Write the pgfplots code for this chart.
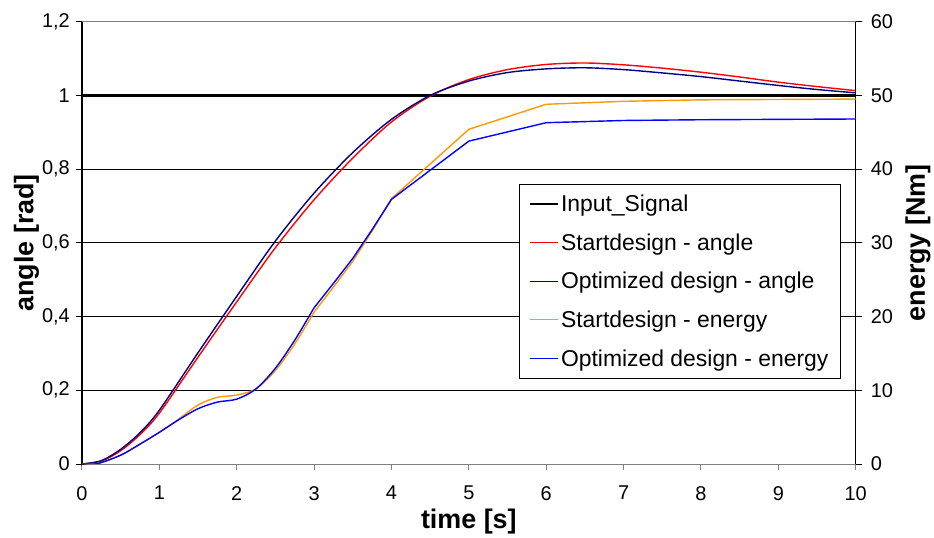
\documentclass[border=0pt]{standalone}
\usepackage{fontspec}
\setmainfont{Liberation Sans}
\usepackage{pgfplots}
\pgfplotsset{compat=1.18}
\usetikzlibrary{calc}

\definecolor{xlnavy}{RGB}{0,0,128}
\definecolor{xlorange}{RGB}{255,153,0}
\definecolor{xlgray}{RGB}{128,128,128}

\pgfplotsset{
  base/.style={
    scale only axis, width=773.7bp, height=442.3bp,
    xmin=0, xmax=10,
    tick align=outside, major tick length=6bp,
    /pgf/number format/assume math mode=true,
    /pgf/number format/use comma,
    tick label style={font=\fontsize{20}{24}\selectfont, inner sep=0bp},
    label style={font=\fontsize{27}{32}\selectfont\bfseries},
  },
}

\begin{document}
\begin{tikzpicture}
\begin{axis}[base, name=ax,
    ymin=0, ymax=1.2,
    xtick={0,1,...,10}, ytick={0,0.2,...,1.2},
    axis x line*=bottom, axis y line*=left,
    x axis line style={xlgray, line width=1bp, -},
    y axis line style={black, line width=2bp, -},
    xtick style={xlgray, line width=1bp},
    ytick style={black, line width=1bp},
    ymajorgrids, major grid style={black, line width=0.8bp},
    xticklabel style={yshift=-16bp},
    yticklabel style={xshift=-6bp},
    xlabel={time [s]}, ylabel={angle [rad]},
    xlabel style={at={(axis description cs:0.5,-0.131)}, anchor=center},
    ylabel style={at={(axis description cs:-0.0717,0.5)}, anchor=center},
]
\draw[xlgray, line width=1bp] (rel axis cs:0,1) -- (rel axis cs:1,1);
% Input_Signal
\addplot[black, line width=2.5bp] coordinates {
(0,1) (1,1) (2,1) (3,1) (4,1) (5,1) (6,1) (7,1) (8,1) (9,1) (10,1)};
% Startdesign - angle
\addplot[red, line width=1.4bp, smooth] coordinates {
(0,0) (0.25,0.008) (0.5,0.036) (0.75,0.08) (1.0,0.138) (1.5,0.29)
(2.0,0.44) (2.5,0.587) (3.0,0.717) (3.5,0.83) (4.0,0.928) (4.5,0.998)
(5.0,1.043) (5.5,1.07) (6.0,1.084) (6.5,1.088) (7.0,1.083) (7.5,1.074)
(8.0,1.063) (8.5,1.05) (9.0,1.036) (9.5,1.024) (10.0,1.013)};
% Optimized design - angle
\addplot[xlnavy, line width=1.4bp, smooth] coordinates {
(0,0) (0.25,0.009) (0.5,0.04) (0.75,0.085) (1.0,0.146) (1.5,0.302)
(2.0,0.455) (2.5,0.605) (3.0,0.735) (3.5,0.845) (4.0,0.935) (4.5,1.0)
(5.0,1.039) (5.5,1.062) (6.0,1.072) (6.5,1.075) (7.0,1.07) (7.5,1.061)
(8.0,1.051) (8.5,1.039) (9.0,1.027) (9.5,1.016) (10.0,1.007)};
\end{axis}

\begin{axis}[base,
    ymin=0, ymax=60, ytick={0,10,...,60},
    axis x line=none, axis y line*=right,
    y axis line style={black, line width=1bp, -},
    ytick style={black, line width=1bp},
    yticklabel style={xshift=9bp},
    ylabel={energy [Nm]},
    ylabel style={at={(axis description cs:1.0805,0.5)}, anchor=center},
    legend cell align=left,
    legend style={at={(axis description cs:0.5652,0.633)}, anchor=north west,
      draw=black, line width=1bp, fill=white,
      font=\fontsize{23}{28}\selectfont,
      inner xsep=10bp, inner ysep=8.5bp, row sep=16.5bp,
      nodes={inner sep=2bp},
      /tikz/every even column/.append style={column sep=5bp}},
    legend image code/.code={\draw[line width=1.2bp, #1] (0bp,0bp) -- (28bp,0bp);},
]
\addlegendimage{color=black, line width=2.5bp}
\addlegendentry{Input\_Signal}
\addlegendimage{color=red, line width=1.2bp}
\addlegendentry{Startdesign - angle}
\addlegendimage{color=xlnavy, line width=1.2bp}
\addlegendentry{Optimized design - angle}
% Startdesign - energy
\addplot[xlorange, line width=1.4bp, smooth, forget plot] coordinates {
(0,0) (0.2,0.05) (0.5,1.2) (0.75,2.7) (1.0,4.3) (1.25,6.1) (1.5,8.0)
(1.75,9.05) (2.0,9.35) (2.25,10.2) (2.5,12.7) (2.75,16.3) (3.0,20.6)};
\addplot[xlorange, line width=1.4bp] coordinates {
(3.0,20.6) (3.25,24.0) (3.5,27.5) (3.75,31.6) (4.0,36.0) (5.0,45.4) (6.0,48.8)
(7.0,49.2) (8.0,49.4) (9.0,49.45) (10.0,49.5)};
\addlegendentry{Startdesign - energy}
% Optimized design - energy
\addplot[blue, line width=1.4bp, smooth, forget plot] coordinates {
(0,0) (0.2,0.05) (0.5,1.2) (0.75,2.7) (1.0,4.3) (1.25,6.0) (1.5,7.5)
(1.75,8.4) (2.0,8.8) (2.25,10.2) (2.5,13.0) (2.75,16.8) (3.0,21.2)};
\addplot[blue, line width=1.4bp] coordinates {
(3.0,21.2) (3.25,24.5) (3.5,27.9) (3.75,31.8) (4.0,35.9) (5.0,43.8) (6.0,46.3)
(7.0,46.6) (8.0,46.7) (9.0,46.75) (10.0,46.8)};
\addlegendentry{Optimized design - energy}
\end{axis}

\pgfresetboundingbox
\path ($(ax.south west)+(-82bp,-74bp)$) rectangle ($(ax.north east)+(78.3bp,21.7bp)$);
\end{tikzpicture}
\end{document}
